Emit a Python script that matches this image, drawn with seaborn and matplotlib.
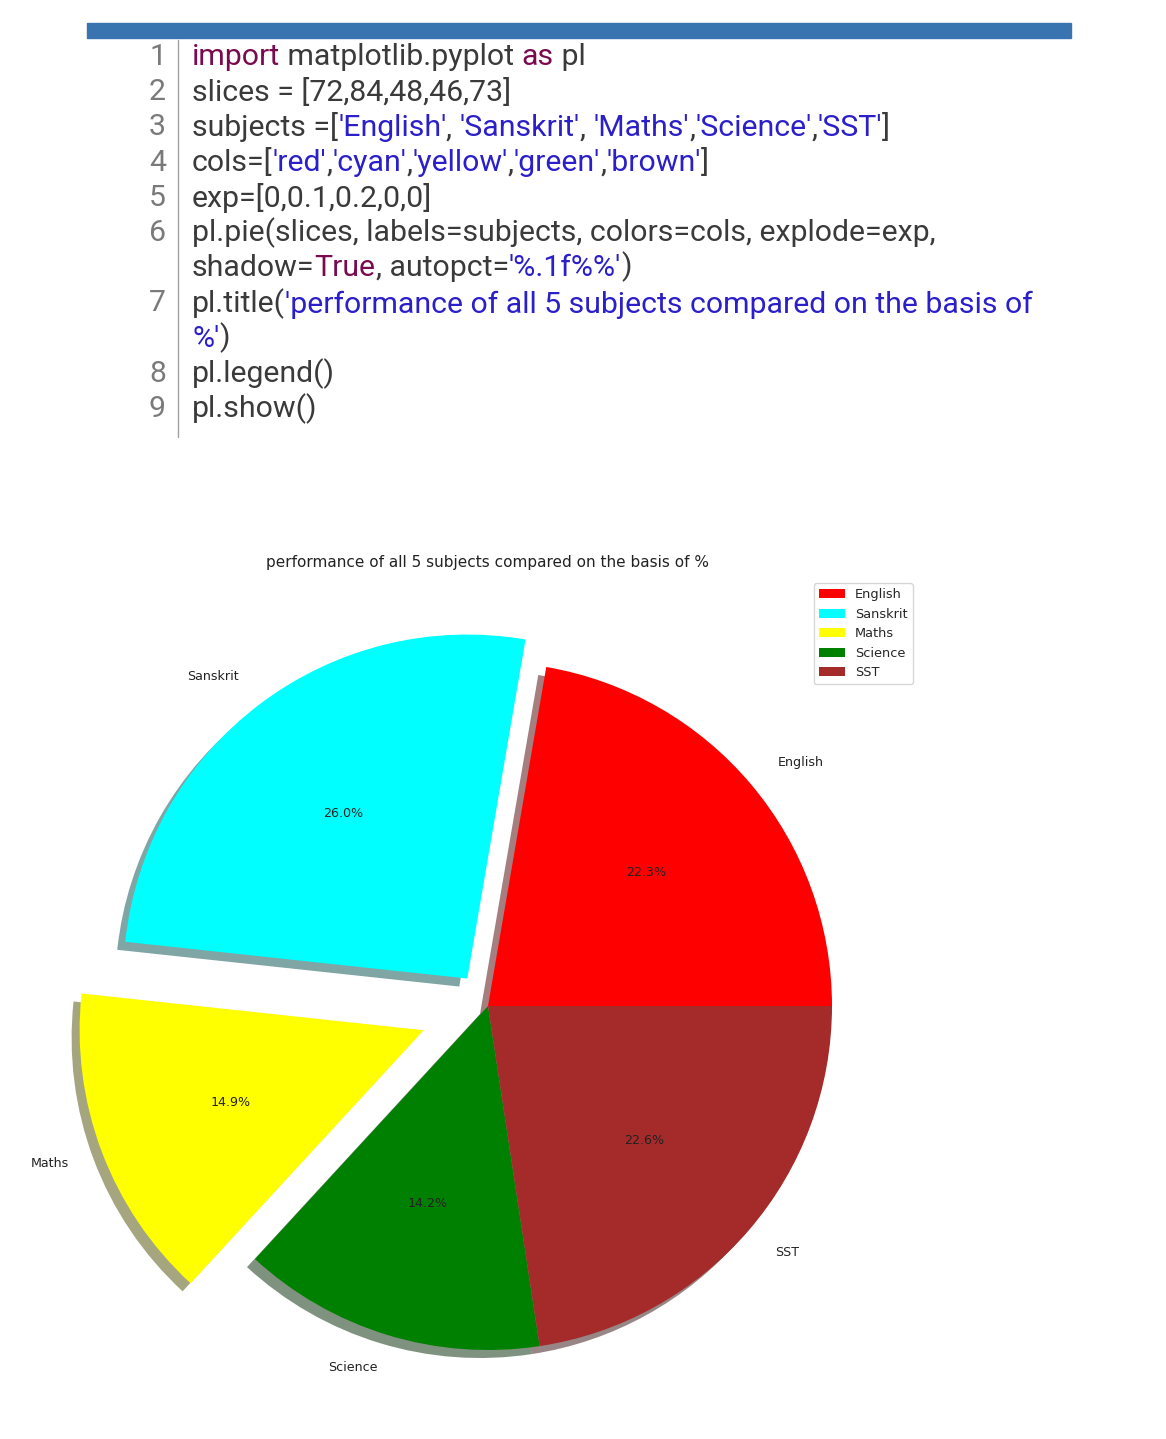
import matplotlib
matplotlib.use("Agg")
import matplotlib.pyplot as plt
import matplotlib.colors as mcolors
import matplotlib.transforms as mtransforms
import numpy as np
import seaborn as sns
from matplotlib.patches import Rectangle, Wedge

# data
slices = [72, 84, 48, 46, 73]
subjects = ['English', 'Sanskrit', 'Maths', 'Science', 'SST']
cols = ['red', 'cyan', 'yellow', 'green', 'brown']
exp = [0, 0.1, 0.2, 0, 0]
title = 'performance of all 5 subjects compared on the basis of %'

# code listing shown above the chart: (text, kind)
KW, TX, ST = 'kw', 'tx', 'st'
code_lines = [
    [("import", KW), (" matplotlib.pyplot ", TX), ("as", KW), (" pl", TX)],
    [("slices = [72,84,48,46,73]", TX)],
    [("subjects =[", TX), ("'English'", ST), (", ", TX), ("'Sanskrit'", ST), (", ", TX),
     ("'Maths'", ST), (",", TX), ("'Science'", ST), (",", TX), ("'SST'", ST), ("]", TX)],
    [("cols=[", TX), ("'red'", ST), (",", TX), ("'cyan'", ST), (",", TX), ("'yellow'", ST),
     (",", TX), ("'green'", ST), (",", TX), ("'brown'", ST), ("]", TX)],
    [("exp=[0,0.1,0.2,0,0]", TX)],
    [("pl.pie(slices, labels=subjects, colors=cols, explode=exp,", TX)],
    [("shadow=", TX), ("True", KW), (", autopct=", TX), ("'%.1f%%'", ST), (")", TX)],
    [("pl.title(", TX), ("'performance of all 5 subjects compared on the basis of", ST)],
    [("%'", ST), (")", TX)],
    [("pl.legend()", TX)],
    [("pl.show()", TX)],
]
line_numbers = ['1', '2', '3', '4', '5', '6', '', '7', '', '8', '9']

sns.set_theme(style="white")
plt.rcParams['font.family'] = ['DejaVu Sans']

W, H = 1166, 1439
fig = plt.figure(figsize=(W / 100, H / 100), dpi=100)

# code editor panel, drawn in pixel coordinates
ax_code = fig.add_axes([0, 0, 1, 1])
ax_code.set_xlim(0, W)
ax_code.set_ylim(H, 0)
ax_code.axis('off')
ax_code.add_patch(Rectangle((87, 23), 984, 15, color='#3a74b0'))
ax_code.plot([178, 178], [40, 437], color='#a0a0a0', lw=1)

kind_color = {KW: '#7a0a4e', TX: '#3a3a3a', ST: '#2a1fc8'}
code_font = dict(family='Roboto', fontsize=21.8)
for i, (segs, num) in enumerate(zip(code_lines, line_numbers)):
    y = 57 + i * 35.2
    if num:
        ax_code.text(166, y, num, ha='right', va='center', color='#7a7a7a', **code_font)
    prev = None
    for seg, kind in segs:
        if prev is None:
            prev = ax_code.text(192, y, seg, ha='left', va='center',
                                color=kind_color[kind], **code_font)
        else:
            prev = ax_code.annotate(seg, xy=(1, 0), xycoords=prev, ha='left', va='bottom',
                                    color=kind_color[kind], **code_font)

# pie chart
cx, cy, r = 488, 1006, 344
top = 450
ax = fig.add_axes([0, 0, 1, (H - top) / H])
ax.patch.set_alpha(0)
wedges, texts, autotexts = ax.pie(
    slices, labels=subjects, colors=cols, explode=exp, autopct='%.1f%%',
    wedgeprops={'linewidth': 0, 'edgecolor': 'none'},
    textprops={'fontsize': 9.1, 'color': '#222222'})
ax.set_aspect('auto')
ax.set_xlim(-cx / r, (W - cx) / r)
ax.set_ylim((cy - H) / r, (cy - top) / r)

# drop shadows like the old matplotlib shadow=True look
shadow_tf = mtransforms.offset_copy(ax.transData, fig=fig, x=-8, y=-8, units='dots')
for w in wedges:
    rgb = 0.3 * np.asarray(mcolors.to_rgb(w.get_facecolor()))
    ax.add_patch(Wedge(w.center, w.r, w.theta1, w.theta2, facecolor=rgb, edgecolor='none',
                       alpha=0.5, transform=shadow_tf, zorder=w.get_zorder() - 0.1))

fig.text(cx / W, 1 - 562 / H, title, ha='center', va='center', fontsize=11, color='#222222')
ax.legend(wedges, subjects, loc='upper right', bbox_to_anchor=(913 / W, 1 - 583 / H),
          bbox_transform=fig.transFigure, borderaxespad=0, fontsize=9.3, frameon=True,
          handlelength=2.0, labelspacing=0.5)

fig.savefig('out.png', dpi=100)
